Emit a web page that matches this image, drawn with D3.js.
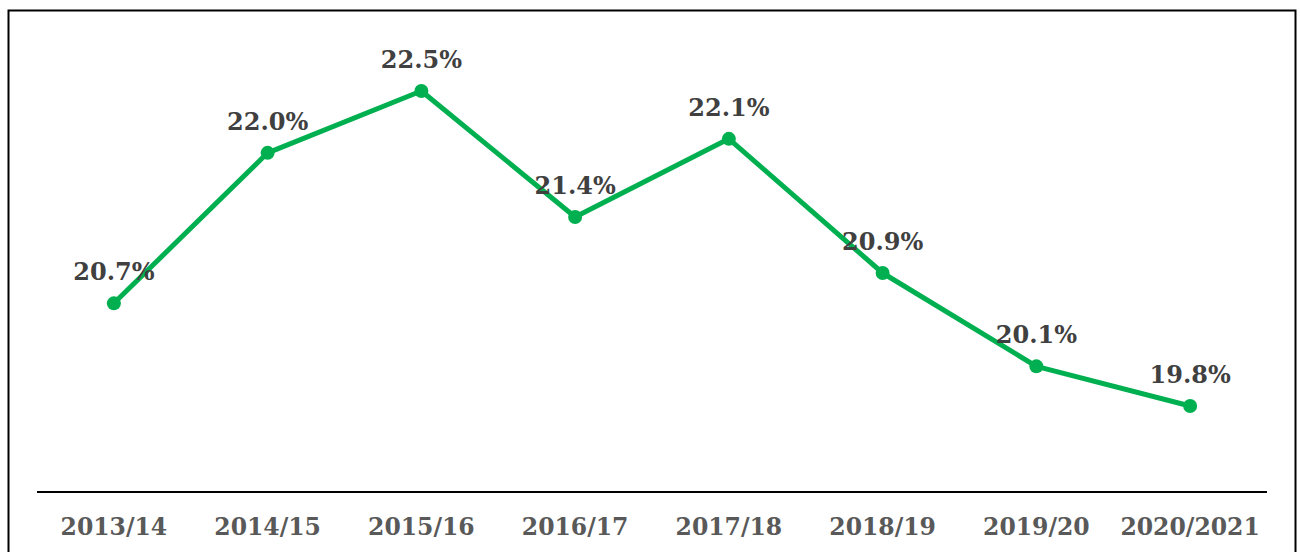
<!DOCTYPE html>
<html><head><meta charset="utf-8">
<script src="https://cdn.jsdelivr.net/npm/d3@7"></script>
<style>html,body{margin:0;padding:0;background:#fff;overflow:hidden}</style>
</head><body>
<svg id="c" width="1300" height="552"></svg>
<script>
const categories = ["2013/14","2014/15","2015/16","2016/17","2017/18","2018/19","2019/20","2020/2021"];
const values = [20.68, 21.97, 22.5, 21.42, 22.09, 20.94, 20.14, 19.8];
const labels = ["20.7%","22.0%","22.5%","21.4%","22.1%","20.9%","20.1%","19.8%"];

const svg = d3.select("#c");
svg.append("rect").attr("x",8.5).attr("y",10.5).attr("width",1287).attr("height",600)
  .attr("fill","none").attr("stroke","#000").attr("stroke-width",2);

const x = d3.scaleBand().domain(categories).range([37,1267]);
const y = d3.scaleLinear().domain([19.8,22.5]).range([406,91]);
const cx = d => x(d) + x.bandwidth()/2;

const axis = svg.append("g").attr("transform","translate(0,492)")
  .call(d3.axisBottom(x).tickSize(0).tickPadding(0));
axis.select(".domain").attr("stroke","#000").attr("stroke-width",2).attr("d","M37,0H1267");
axis.selectAll("text").attr("y",43).attr("dy",null)
  .attr("font-family","'DejaVu Serif', serif").attr("font-weight","bold")
  .attr("font-size",23.5).attr("fill","#595959");

const data = categories.map((c,i)=>({c, v: values[i], l: labels[i]}));
svg.append("path").datum(data)
  .attr("fill","none").attr("stroke","#00B050").attr("stroke-width",5).attr("stroke-linejoin","round")
  .attr("d", d3.line().x(d=>cx(d.c)).y(d=>y(d.v)));
svg.selectAll("circle.pt").data(data).join("circle")
  .attr("cx",d=>cx(d.c)).attr("cy",d=>y(d.v)).attr("r",7).attr("fill","#00B050");
svg.selectAll("text.lbl").data(data).join("text").attr("class","lbl")
  .attr("x",d=>cx(d.c)).attr("y",d=>y(d.v)-23).attr("text-anchor","middle")
  .attr("font-family","'DejaVu Serif', serif").attr("font-weight","bold")
  .attr("font-size",24).attr("fill","#404040").text(d=>d.l);
</script>
</body></html>
